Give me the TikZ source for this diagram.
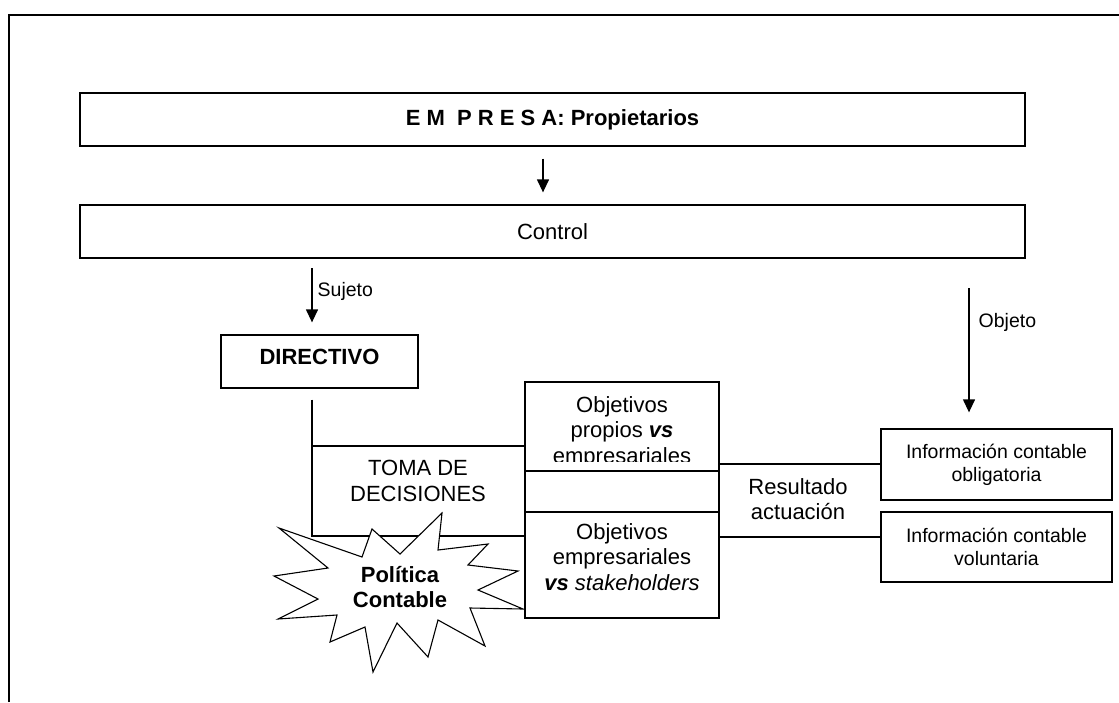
\documentclass[tikz,border=0pt]{standalone}
\usepackage{fontspec}
\setmainfont{Liberation Sans}
\usetikzlibrary{arrows.meta,calc}
\newcommand\diagmain{\fontsize{22}{25.5}\selectfont}
\newcommand\diagsmall{\fontsize{19.5}{23}\selectfont}
\begin{document}
\begin{tikzpicture}[x=1pt,y=-1pt,line width=1.3pt,
  box/.style={draw,rectangle,inner sep=0pt,align=center,font=\diagmain},
  ibox/.style={draw,rectangle,inner sep=0pt,align=center,font=\diagsmall,minimum width=231pt},
  txt/.style={inner sep=0pt,align=center,font=\diagmain},
  lbl/.style={inner sep=0pt,anchor=west,font=\diagsmall},
  arr/.style={-{Triangle[length=13pt,width=12pt]}},
  starshape/.style={draw,fill=white,line width=1.1pt,line join=miter}]
\useasboundingbox (0,0) rectangle (1119,702);
% outer frame
\draw (9,702) -- (9,15) -- (1119,15);
% boxes
\node[box,minimum width=945pt,minimum height=53pt,font=\diagmain\bfseries] (emp) at (552.5,119.5) {E M\ \ P R E S A: Propietarios};
\node[box,minimum width=945pt,minimum height=53pt] (ctrl) at (552.5,231.5) {Control};
\node[box,minimum width=197pt,minimum height=53pt,font=\diagmain\bfseries,text depth=9pt] (dir) at (319.5,361.5) {DIRECTIVO};
\node[box,minimum width=194pt,minimum height=89pt] (obj1) at (622,426.5) {};
\node[box,minimum width=194pt,minimum height=41pt] (mid) at (622,491.5) {};
\node[box,minimum width=194pt,minimum height=106pt] (obj2) at (622,565) {};
\node[ibox,minimum height=71pt] (info1) at (996.5,464.5) {Información contable\\obligatoria};
\node[ibox,minimum height=70pt] (info2) at (996.5,547) {Información contable\\voluntaria};
% texts
\begin{scope}
  \clip (525,382) rectangle (719,461);
  \node[txt] (o1t) at (622,432) {Objetivos\\propios \textbf{\textit{vs}}\\empresariales};
\end{scope}
\node[txt] (o2t) at (622,557) {Objetivos\\empresariales\\\textbf{\textit{vs}} \textit{stakeholders}};
\node[txt] (toma) at (418,481) {TOMA DE\\DECISIONES};
\node[txt] (res) at (798,499) {Resultado\\actuación};
% arrows
\draw[arr,shorten <=12pt,shorten >=12pt] ([xshift=-9.5pt]emp.south) -- ([xshift=-9.5pt]ctrl.north);
\coordinate (sj) at (312,268);
\draw[arr] (sj) -- ([xshift=-7.5pt,yshift=12pt]dir.north);
\node[lbl] (suj) at (317,291) {Sujeto};
\coordinate (oj) at (969,288);
\draw[arr] (oj) -- ([xshift=-27.5pt,yshift=16pt]info1.north);
\node[lbl] (obje) at (978,322) {Objeto};
% connecting lines
\coordinate (tl) at (312,446);
\coordinate (bl) at (312,536);
\draw ([xshift=-7.5pt,yshift=-11pt]dir.south) -- (bl) -- (bl -| obj2.west);
\draw (tl) -- (tl -| obj1.west);
\coordinate (rt) at (0,464);
\coordinate (rb) at (0,537);
\draw (obj1.east |- rt) -- (info1.west |- rt);
\draw (obj2.east |- rb) -- (info2.west |- rb);
% star
\draw[starshape] (279,528) -- (362,557) -- (372,529) -- (400,554) -- (442,513) -- (438,550)
  -- (488,544) -- (468,565) -- (518,571) -- (478,590) -- (523,609) -- (470,608)
  -- (485,646) -- (438,620) -- (428,657) -- (397,623) -- (373,672) -- (365,627)
  -- (330,642) -- (337,615) -- (278,619) -- (318,599) -- (274,576) -- (328,568) -- cycle;
\node[txt,font=\diagmain\bfseries] (pol) at (400,587) {Política\\Contable};
\end{tikzpicture}
\end{document}
